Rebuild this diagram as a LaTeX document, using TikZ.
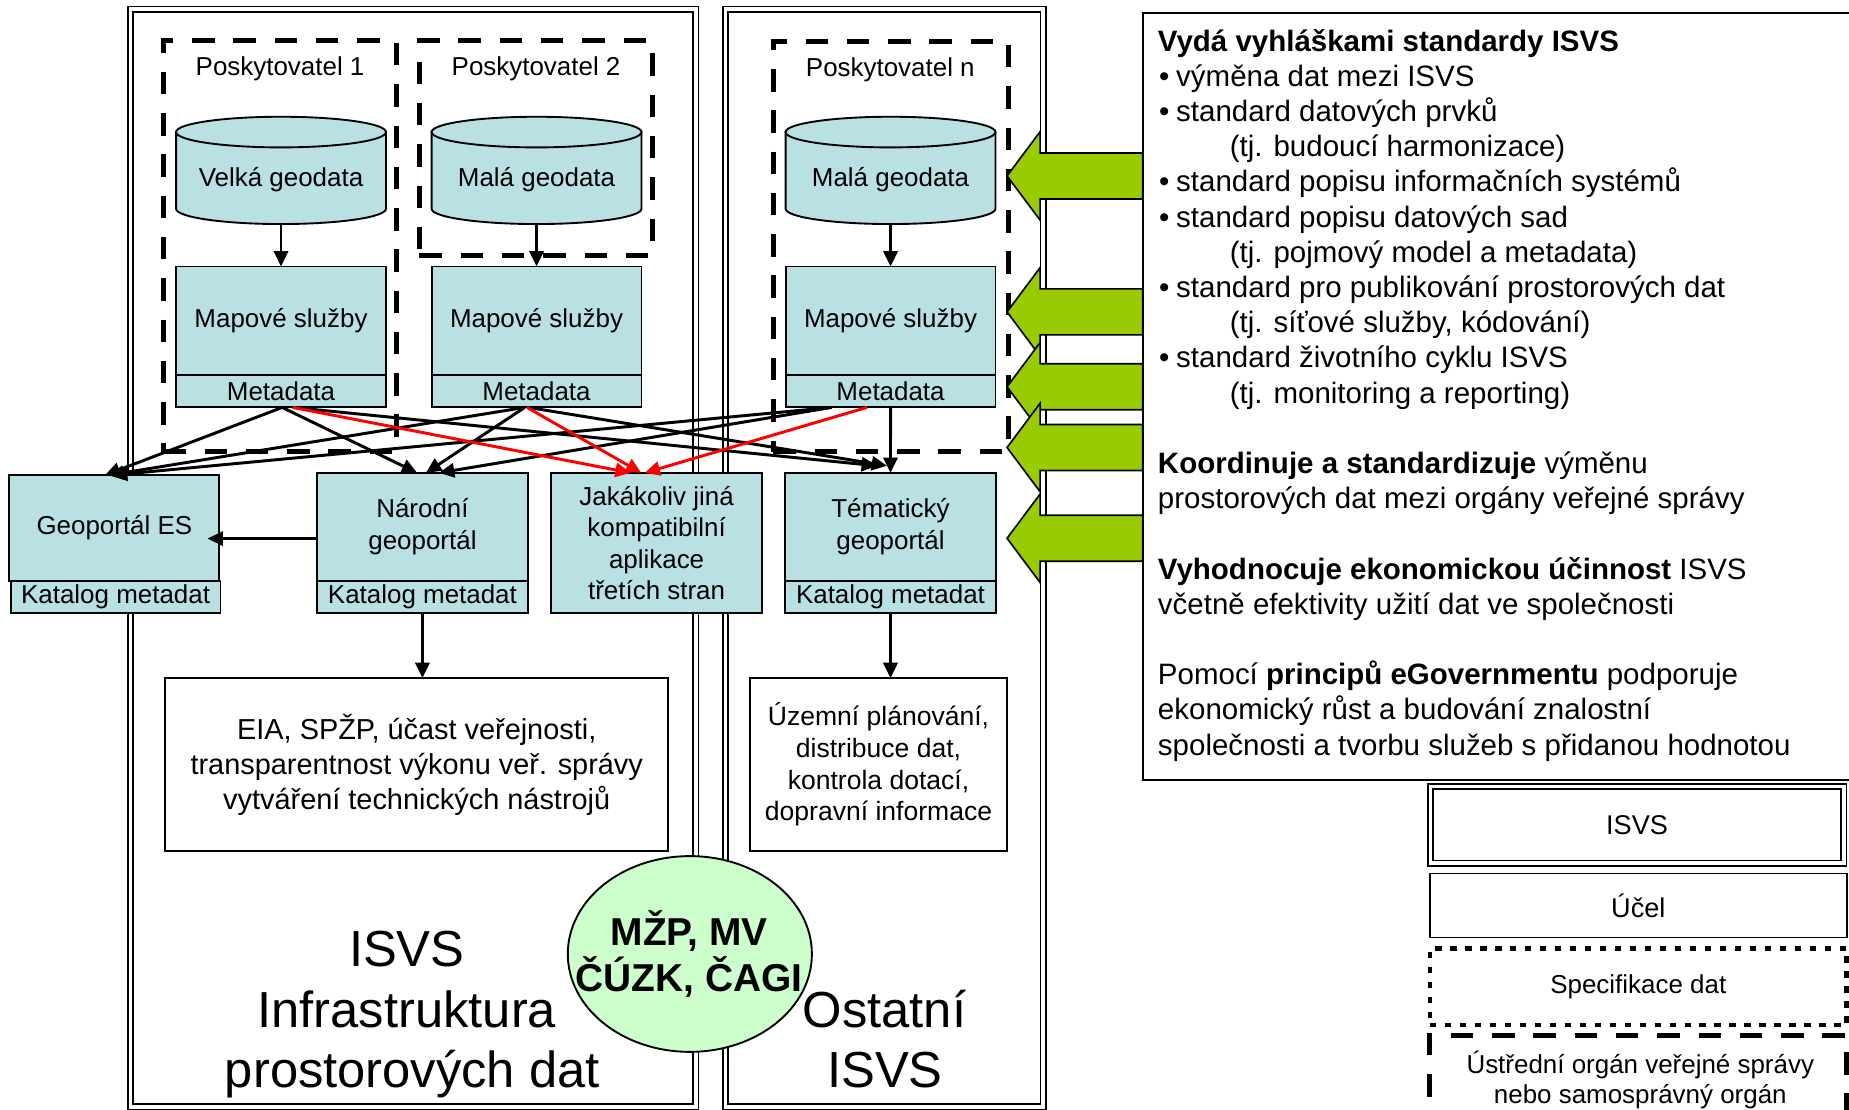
\documentclass[tikz,border=0pt]{standalone}
\usepackage{fontspec}
\setmainfont{Liberation Sans}
\usetikzlibrary{arrows.meta,calc,shapes.geometric}
\definecolor{boxfill}{RGB}{185,224,227}
\definecolor{agreen}{RGB}{153,204,0}
\definecolor{egreen}{RGB}{204,255,204}
\newcommand{\fsz}[2]{\fontsize{#1}{#2}\selectfont}
\newcommand{\mybul}{\makebox[14.5pt][l]{•}}
\newcommand{\drawcyl}[1]{%
  \draw[fill=boxfill, line width=1.6pt] ($(#1.north west)+(0,13)$) -- ($(#1.south west)+(0,-13)$)
     arc[start angle=180, end angle=0, x radius=89, y radius=13] -- ($(#1.north east)+(0,13)$) -- cycle;
  \draw[fill=boxfill, line width=1.6pt] ($(#1.north)+(0,13)$) ellipse[x radius=89, y radius=13];
}
\tikzset{
  panel/.style={draw, double=white, double distance=3.2pt, line width=1.4pt, inner sep=0pt, outer sep=0pt},
  provbox/.style={draw, line width=4.2pt, dash pattern=on 19pt off 16pt, inner sep=0pt, outer sep=0pt},
  cbox/.style={draw, fill=boxfill, line width=1.6pt, inner sep=0pt, outer sep=0pt, align=center, font=\fsz{22}{26.8}},
  wbox/.style={draw, fill=white, line width=1.8pt, inner sep=0pt, outer sep=0pt, align=center},
  lbl/.style={inner sep=0pt, outer sep=0pt, font=\fsz{22}{26.8}},
  cylnode/.style={minimum width=178pt, minimum height=91pt, inner sep=0pt, outer sep=0pt},
  conn/.style={line width=2.5pt, -{Triangle[length=13pt,width=12pt]}},
  redconn/.style={conn, red},
  garrowstyle/.style={draw, fill=agreen, line width=1.4pt, line join=miter},
  txt/.style={anchor=base west, inner sep=0pt, outer sep=0pt, font=\fsz{25}{29.85}},
  big/.style={anchor=base, inner sep=0pt, outer sep=0pt, font=\fsz{43}{51}},
}
\begin{document}
\begin{tikzpicture}[x=1pt,y=-1pt]
\useasboundingbox (0,0) rectangle (1568,941);

% panels
\node[panel, minimum width=479.3pt, minimum height=930.6pt] (leftpanel) at (350.4,473.2) {};
\node[panel, minimum width=269.5pt, minimum height=930.6pt] (midpanel) at (750.05,473.2) {};

% text box
\node[draw, line width=1.8pt, minimum width=620pt, minimum height=650.3pt, inner sep=0pt] (txtbox) at (1279,336.45) {};
\node[txt] (l0) at (982,43.3) {\textbf{Vydá vyhláškami standardy ISVS}};
\node[txt] (l1) at (983,73.15) {\mybul výměna dat mezi ISVS};
\node[txt] (l2) at (983,103.0) {\mybul standard datových prvků};
\node[txt] (l3) at (1043,132.85) {(tj. budoucí harmonizace)};
\node[txt] (l4) at (983,162.7) {\mybul standard popisu informačních systémů};
\node[txt] (l5) at (983,192.55) {\mybul standard popisu datových sad};
\node[txt] (l6) at (1043,222.4) {(tj. pojmový model a metadata)};
\node[txt] (l7) at (983,252.25) {\mybul standard pro publikování prostorových dat};
\node[txt] (l8) at (1043,282.1) {(tj. síťové služby, kódování)};
\node[txt] (l9) at (983,311.95) {\mybul standard životního cyklu ISVS};
\node[txt] (l10) at (1043,341.8) {(tj. monitoring a reporting)};
\node[txt] (l12) at (982,401.5) {\textbf{Koordinuje a standardizuje} výměnu};
\node[txt] (l13) at (982,431.35) {prostorových dat mezi orgány veřejné správy};
\node[txt] (l15) at (982,491.05) {\textbf{Vyhodnocuje ekonomickou účinnost} ISVS};
\node[txt] (l16) at (982,520.9) {včetně efektivity užití dat ve společnosti};
\node[txt] (l18) at (982,580.6) {Pomocí \textbf{principů eGovernmentu} podporuje};
\node[txt] (l19) at (982,610.45) {ekonomický růst a budování znalostní};
\node[txt] (l20) at (982,640.3) {společnosti a tvorbu služeb s přidanou hodnotou};

% provider boxes
\node[provbox, minimum width=197.5pt, minimum height=348.5pt] (prov1) at (237.25,208.75) {};
\node[provbox, minimum width=197.3pt, minimum height=182.5pt] (prov2) at (454.35,125.75) {};
\node[provbox, minimum width=199.2pt, minimum height=348pt] (provn) at (755.4,209) {};
\node[lbl] (p1lab) at (237.5,58) {Poskytovatel 1};
\node[lbl] (p2lab) at (454.6,58) {Poskytovatel 2};
\node[lbl] (pnlab) at (755,59.4) {Poskytovatel n};

% cylinders
\node[cylnode] (cyl1) at (238.3,144.5) {};
\node[cylnode] (cyl2) at (455,144.5) {};
\node[cylnode] (cyln) at (755.2,144.5) {};
\drawcyl{cyl1}
\drawcyl{cyl2}
\drawcyl{cyln}
\node[lbl] (cyl1t) at (238.3,152.7) {Velká geodata};
\node[lbl] (cyl2t) at (455,152.7) {Malá geodata};
\node[lbl] (cylnt) at (755.2,152.7) {Malá geodata};

% map services + metadata
\node[cbox, minimum width=178pt, minimum height=92pt] (map1) at (238.3,272) {Mapové služby};
\node[cbox, minimum width=178pt, minimum height=27.5pt] (meta1) at (238.3,331.75) {Metadata};
\node[cbox, minimum width=178pt, minimum height=92pt] (map2) at (455,272) {Mapové služby};
\node[cbox, minimum width=178pt, minimum height=27.5pt] (meta2) at (455,331.75) {Metadata};
\node[cbox, minimum width=178pt, minimum height=92pt] (mapn) at (755.2,272) {Mapové služby};
\node[cbox, minimum width=178pt, minimum height=27.5pt] (metan) at (755.2,331.75) {Metadata};
\draw[conn] (cyl1.south) -- (map1.north);
\draw[conn] (cyl2.south) -- (map2.north);
\draw[conn] (cyln.south) -- (mapn.north);

% lower row
\node[cbox, minimum width=178pt, minimum height=89.5pt] (geoES) at (97,447.75) {Geoportál ES};
\node[cbox, minimum width=178pt, minimum height=27.5pt] (katES) at (98,506.25) {Katalog metadat};
\node[cbox, minimum width=178.5pt, minimum height=91.5pt] (narodni) at (358.25,446.75) {Národní\\geoportál};
\node[cbox, minimum width=178.5pt, minimum height=27.5pt] (katN) at (358.25,506.25) {Katalog metadat};
\node[cbox, minimum width=178.4pt, minimum height=119pt] (jak) at (556.8,460.5) {Jakákoliv jiná\\kompatibilní\\aplikace\\třetích stran};
\node[cbox, minimum width=178.7pt, minimum height=91.5pt] (tem) at (755.15,446.75) {Tématický\\geoportál};
\node[cbox, minimum width=178.7pt, minimum height=27.5pt] (katT) at (755.15,506.25) {Katalog metadat};

\node[wbox, minimum width=426.8pt, minimum height=146.5pt, font=\fsz{24.5}{29.7}] (eia) at (353.4,648.25) {EIA, SPŽP, účast veřejnosti,\\transparentnost výkonu veř. správy\\vytváření technických nástrojů};
\node[wbox, minimum width=218pt, minimum height=146.5pt, font=\fsz{22.5}{26.9}] (uzemni) at (745,648.25) {Územní plánování,\\distribuce dat,\\kontrola dotací,\\dopravní informace};
\draw[conn] (katN.south) -- (katN.south |- eia.north);
\draw[conn] (katT.south) -- (katT.south |- uzemni.north);

% connectors from metadata
\draw[conn] ($(meta1.south)+(1,0)$) -- ($(geoES.north)+(-8,0)$);
\draw[conn] ($(meta1.south)+(1,0)$) -- ($(narodni.north)+(-4.5,0)$);
\draw[conn] ($(meta1.south)+(10,0)$) -- ($(tem.north)+(-11.5,-6)$);
\draw[conn] ($(meta2.south)+(-10,0)$) -- ($(geoES.north)+(-5,0)$);
\draw[conn] ($(meta2.south)+(-10,0)$) -- ($(narodni.north)+(3,0)$);
\draw[conn] ($(meta2.south)+(-7,0)$) -- ($(tem.north)+(-3,-6)$);
\draw[conn] ($(metan.south)+(-50,0)$) -- ($(geoES.north)+(-2,0)$);
\draw[conn] ($(metan.south)+(-50,0)$) -- ($(narodni.north)+(14,0)$);
\draw[conn] (metan.south) -- (tem.north);
\draw[redconn] ($(meta1.south)+(10,0)$) -- ($(jak.north)+(-22,0)$);
\draw[redconn] ($(meta2.south)+(-8,0)$) -- ($(jak.north)+(-13,0)$);
\draw[redconn] ($(metan.south)+(-20,0)$) -- ($(jak.north)+(-10,0)$);
\draw[conn] ($(narodni.west)+(0,10)$) -- ($(geoES.east)+(-10,9)$);

% green block arrows
\foreach \cy in {149.2,264.5,328,379.5,456.5} {
  \draw[garrowstyle] (854,\cy) -- (882,{\cy-37.5}) -- (882,{\cy-19.5}) -- (969,{\cy-19.5})
     -- (969,{\cy+19.5}) -- (882,{\cy+19.5}) -- (882,{\cy+37.5}) -- cycle;
}

% ellipse
\node[ellipse, draw, fill=egreen, line width=1.6pt, minimum width=207pt, minimum height=166pt, inner sep=0pt] (org) at (585,809) {};
\node[inner sep=0pt, align=center, font=\bfseries\fsz{33}{39}] (orgtext) at (584.5,809) {MŽP, MV\\ČÚZK, ČAGI};

% big labels
\node[big] (bigA) at (345,820) {ISVS};
\node[big] (bigB) at (345,871.5) {Infrastruktura};
\node[big] (bigC) at (349.7,922) {prostorových dat};
\node[big] (bigD) at (750,871) {Ostatní};
\node[big] (bigE) at (750.5,922) {ISVS};

% legend
\node[panel, minimum width=350.5pt, minimum height=65pt, font=\fsz{23}{27}] (legISVS) at (1388.25,699.5) {ISVS};
\node[draw, line width=1.6pt, minimum width=353.4pt, minimum height=54.3pt, inner sep=0pt, font=\fsz{23}{27}] (legUcel) at (1389.3,767.85) {Účel};
\node[draw, line width=3.7pt, dash pattern=on 5.3pt off 7.4pt, minimum width=353.4pt, minimum height=65.1pt, inner sep=0pt, font=\fsz{22}{26}] (legSpec) at (1389.3,836.85) {Specifikace dat};
\node[provbox, minimum width=353.4pt, minimum height=100pt] (legUst) at (1389.3,927.8) {};
\node[lbl, align=center, font=\fsz{22}{25.4}] (legUstText) at (1391,916) {Ústřední orgán veřejné správy\\nebo samosprávný orgán};
\end{tikzpicture}
\end{document}
